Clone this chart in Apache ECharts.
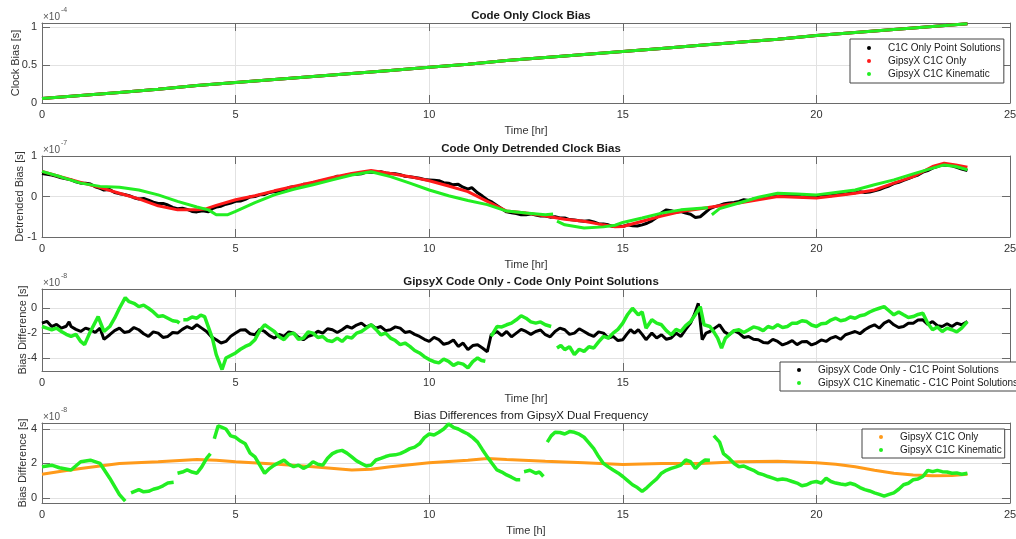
<!DOCTYPE html>
<html><head><meta charset="utf-8">
<script src="https://cdn.jsdelivr.net/npm/echarts@6/dist/echarts.min.js"></script>
<style>html,body{margin:0;padding:0;background:#fff}#c{width:1016px;height:539px}</style>
</head><body><div id="c"></div><script>
// ---------- data (time in hours) ----------
const p1Time = [0,1,2,3,4,5,6,7,8,9,10,11,12,13,14,15,16,17,18,19,20,21,22,23,23.9];
// clock bias, x1e-4 s (all three solutions overlap at this scale)
const p1ClockBias = [0.06,0.10,0.14,0.18,0.23,0.27,0.31,0.35,0.39,0.43,0.47,0.51,0.56,0.60,0.64,0.68,0.72,0.76,0.80,0.84,0.89,0.93,0.97,1.01,1.045];

// detrended bias, x1e-7 s
const p2PointSol = [[0,0.57],[0.125,0.55],[0.25,0.53],[0.375,0.5],[0.5,0.46],[0.75,0.41],[0.875,0.36],[1,0.33],[1.125,0.33],[1.25,0.31],[1.375,0.24],[1.5,0.2],[1.6,0.16],[1.75,0.17],[1.875,0.1],[2,0.07],[2.125,0.05],[2.25,0.02],[2.375,-0.03],[2.5,-0.06],[2.625,-0.05],[2.75,-0.09],[2.875,-0.14],[3,-0.17],[3.125,-0.17],[3.25,-0.21],[3.375,-0.27],[3.5,-0.3],[3.625,-0.29],[3.75,-0.32],[3.875,-0.37],[4,-0.38],[4.15,-0.35],[4.3,-0.38],[4.4,-0.3],[4.5,-0.26],[4.625,-0.24],[4.75,-0.19],[4.875,-0.16],[5,-0.12],[5.125,-0.11],[5.25,-0.07],[5.375,-0.01],[5.5,0.0],[5.625,0.04],[5.75,0.05],[5.875,0.1],[6,0.12],[6.125,0.13],[6.25,0.17],[6.375,0.22],[6.5,0.24],[6.625,0.23],[6.75,0.3],[6.875,0.3],[7,0.33],[7.125,0.37],[7.25,0.39],[7.375,0.42],[7.5,0.45],[7.625,0.5],[7.75,0.49],[7.875,0.53],[8,0.55],[8.125,0.55],[8.25,0.56],[8.375,0.6],[8.5,0.6],[8.625,0.59],[8.75,0.61],[8.875,0.58],[9,0.57],[9.125,0.56],[9.25,0.54],[9.375,0.5],[9.5,0.49],[9.625,0.47],[9.75,0.45],[9.875,0.42],[10,0.41],[10.125,0.4],[10.25,0.39],[10.375,0.34],[10.5,0.33],[10.6,0.29],[10.75,0.3],[10.875,0.23],[11,0.18],[11.1,0.22],[11.25,0.09],[11.375,0.01],[11.5,-0.08],[11.625,-0.14],[11.75,-0.22],[11.875,-0.3],[12,-0.38],[12.125,-0.4],[12.25,-0.42],[12.375,-0.45],[12.5,-0.45],[12.625,-0.43],[12.75,-0.46],[12.875,-0.48],[13,-0.48],[13.125,-0.51],[13.25,-0.5],[13.375,-0.53],[13.5,-0.53],[13.625,-0.57],[13.75,-0.58],[13.875,-0.6],[14,-0.61],[14.125,-0.6],[14.25,-0.63],[14.375,-0.67],[14.5,-0.68],[14.625,-0.7],[14.75,-0.74],[14.875,-0.72],[15,-0.74],[15.125,-0.7],[15.25,-0.72],[15.375,-0.73],[15.5,-0.7],[15.625,-0.66],[15.75,-0.6],[15.875,-0.52],[16,-0.4],[16.125,-0.33],[16.25,-0.35],[16.375,-0.39],[16.5,-0.37],[16.625,-0.41],[16.75,-0.44],[16.875,-0.52],[17,-0.5],[17.1,-0.42],[17.25,-0.3],[17.375,-0.25],[17.5,-0.22],[17.625,-0.18],[17.75,-0.16],[17.875,-0.15],[18,-0.12],[18.125,-0.08],[18.25,-0.1],[18.375,-0.06],[18.5,-0.04],[18.625,-0.02],[18.75,0.0],[18.875,0.02],[19,0.03],[19.125,0.01],[19.25,0.04],[19.375,0.03],[19.5,0.02],[19.625,-0.01],[19.75,0.01],[19.875,0.0],[20,0.0],[20.125,0.04],[20.25,0.02],[20.375,0.02],[20.5,0.04],[20.625,0.07],[20.75,0.06],[20.875,0.08],[21,0.09],[21.125,0.12],[21.25,0.1],[21.375,0.11],[21.5,0.14],[21.625,0.17],[21.75,0.22],[21.875,0.26],[22,0.32],[22.125,0.35],[22.25,0.4],[22.375,0.44],[22.5,0.49],[22.625,0.53],[22.75,0.6],[22.875,0.64],[23,0.7],[23.125,0.74],[23.25,0.78],[23.375,0.77],[23.5,0.76],[23.625,0.72],[23.75,0.68],[23.9,0.64]];
const p2GipsyOnly = [[0,0.62],[0.5,0.48],[1,0.35],[1.5,0.22],[2,0.08],[2.5,-0.06],[3,-0.23],[3.5,-0.33],[4,-0.33],[4.25,-0.3],[4.5,-0.22],[5,-0.08],[5.5,0.02],[6,0.14],[6.5,0.25],[7,0.35],[7.5,0.47],[8,0.57],[8.5,0.64],[9,0.57],[9.5,0.49],[10,0.39],[10.5,0.26],[11,0.12],[11.5,-0.12],[12,-0.36],[12.5,-0.41],[13,-0.48],[13.5,-0.56],[14,-0.61],[14.5,-0.7],[14.8,-0.75],[15,-0.74],[15.5,-0.61],[16,-0.48],[16.5,-0.37],[17,-0.3],[17.5,-0.23],[18,-0.16],[18.5,-0.08],[19,0],[19.5,-0.02],[20,-0.04],[20.5,0.02],[21,0.08],[21.5,0.16],[22,0.33],[22.5,0.49],[23,0.74],[23.3,0.82],[23.6,0.78],[23.9,0.72]];
const p2GipsyKin = [[0,0.62],[0.5,0.48],[1,0.33],[1.5,0.25],[2,0.23],[2.5,0.16],[3,0.04],[3.5,-0.12],[4,-0.26],[4.3,-0.33],[4.5,-0.45],[4.8,-0.45],[5,-0.37],[5.5,-0.15],[6,0.04],[6.5,0.18],[7,0.29],[7.5,0.41],[8,0.53],[8.5,0.61],[9,0.49],[9.5,0.33],[10,0.16],[10.5,0.02],[11,-0.1],[11.5,-0.2],[12,-0.36],[12.5,-0.41],[13,-0.45],[13.2,-0.43],[13.25,'-'],[13.3,-0.61],[13.5,-0.7],[14,-0.78],[14.5,-0.75],[14.8,-0.71],[15,-0.64],[15.5,-0.53],[16,-0.41],[16.5,-0.33],[17,-0.29],[17.2,-0.28],[17.25,'-'],[17.3,-0.45],[17.5,-0.3],[18,-0.16],[18.5,-0.02],[19,0.08],[19.5,0.06],[20,0.04],[20.5,0.1],[21,0.16],[21.5,0.29],[22,0.41],[22.5,0.56],[23,0.7],[23.3,0.78],[23.6,0.74],[23.9,0.66]];

// bias difference, x1e-8 s
const p3CodeOnly = [[0,-1.2],[0.125,-1.05],[0.25,-1.47],[0.375,-1.3],[0.5,-1.6],[0.625,-1.45],[0.7,-1.1],[0.75,-1.47],[0.875,-1.7],[1,-1.87],[1.125,-1.6],[1.25,-1.73],[1.375,-1.95],[1.5,-1.6],[1.6,-2.5],[1.75,-2.13],[1.875,-1.8],[2,-1.6],[2.125,-1.95],[2.25,-1.87],[2.375,-1.55],[2.5,-1.73],[2.625,-2.05],[2.75,-2.27],[2.875,-1.9],[3,-2.0],[3.125,-2.35],[3.25,-2.27],[3.375,-1.95],[3.5,-2.0],[3.625,-1.7],[3.75,-1.47],[3.875,-1.65],[4,-1.33],[4.125,-1.6],[4.25,-1.87],[4.375,-2.3],[4.5,-2.53],[4.625,-2.8],[4.75,-2.67],[4.875,-2.25],[5,-2.0],[5.125,-1.75],[5.25,-1.73],[5.375,-2.05],[5.5,-2.13],[5.625,-1.7],[5.75,-1.87],[5.875,-2.2],[6,-2.4],[6.125,-2.1],[6.25,-2.27],[6.375,-1.9],[6.5,-2.0],[6.625,-2.35],[6.75,-2.53],[6.875,-2.25],[7,-2.13],[7.125,-1.85],[7.25,-2.0],[7.375,-1.65],[7.5,-1.73],[7.625,-1.95],[7.75,-1.73],[7.875,-1.45],[8,-1.6],[8.125,-1.35],[8.25,-1.2],[8.375,-1.5],[8.5,-1.33],[8.625,-1.6],[8.75,-1.47],[8.875,-1.8],[9,-1.73],[9.125,-1.5],[9.25,-1.6],[9.375,-1.95],[9.5,-1.87],[9.625,-2.1],[9.75,-2.27],[9.875,-2.5],[10,-2.67],[10.125,-2.35],[10.25,-2.53],[10.375,-2.9],[10.5,-2.8],[10.625,-2.55],[10.75,-3.07],[10.875,-2.8],[11,-3.33],[11.125,-3.0],[11.25,-2.93],[11.375,-3.2],[11.5,-3.5],[11.6,-2.13],[11.75,-1.87],[11.875,-2.2],[12,-1.87],[12.125,-2.3],[12.25,-2.0],[12.375,-1.7],[12.5,-1.87],[12.625,-2.1],[12.75,-1.87],[12.875,-1.75],[13,-2.13],[13.125,-2.3],[13.25,-1.87],[13.375,-1.6],[13.5,-1.73],[13.625,-2.1],[13.75,-2.0],[13.875,-1.65],[14,-1.87],[14.125,-2.1],[14.25,-2.27],[14.375,-1.9],[14.5,-2.0],[14.625,-2.4],[14.75,-2.27],[14.875,-2.6],[15,-2.53],[15.1,-2.1],[15.2,-1.73],[15.3,-2.0],[15.4,-1.73],[15.5,-2.1],[15.6,-2.53],[15.75,-2.0],[15.875,-2.4],[16,-2.13],[16.125,-2.5],[16.25,-2.4],[16.375,-2.0],[16.5,-2.27],[16.625,-1.7],[16.75,-1.2],[16.85,-0.5],[16.95,0.4],[17.05,-2.53],[17.15,-2.0],[17.25,-1.87],[17.375,-1.6],[17.5,-1.33],[17.625,-1.9],[17.75,-2.13],[17.875,-1.8],[18,-2.0],[18.125,-2.35],[18.25,-2.27],[18.375,-2.5],[18.5,-2.53],[18.625,-2.75],[18.75,-2.8],[18.875,-2.5],[19,-2.67],[19.125,-2.95],[19.25,-2.8],[19.375,-2.6],[19.5,-2.93],[19.625,-2.7],[19.75,-2.67],[19.875,-2.95],[20,-2.8],[20.125,-2.55],[20.25,-2.67],[20.375,-2.4],[20.5,-2.27],[20.625,-2.5],[20.75,-2.13],[20.875,-2.0],[21,-1.87],[21.125,-2.05],[21.25,-1.73],[21.375,-1.5],[21.5,-1.33],[21.625,-1.6],[21.75,-1.2],[21.875,-1.0],[22,-1.33],[22.125,-1.55],[22.25,-1.47],[22.375,-1.2],[22.5,-1.2],[22.625,-0.95],[22.75,-0.93],[22.875,-1.3],[23,-1.07],[23.125,-1.4],[23.25,-1.47],[23.375,-1.25],[23.5,-1.47],[23.625,-1.2],[23.75,-1.33],[23.9,-1.07]];
const p3Kinematic = [[0,-1.47],[0.125,-1.6],[0.25,-1.73],[0.375,-1.6],[0.5,-1.87],[0.625,-2.1],[0.75,-2.27],[0.875,-2.1],[1,-2.67],[1.1,-2.93],[1.25,-1.87],[1.45,-0.67],[1.6,-1.87],[1.75,-1.47],[1.875,-0.8],[2,0],[2.15,0.85],[2.25,0.53],[2.375,0.4],[2.5,0.13],[2.625,0.25],[2.75,0],[2.875,-0.3],[3,-0.67],[3.125,-0.6],[3.25,-0.8],[3.375,-1.0],[3.5,-1.07],[3.55,-1.2],[3.6,'-'],[3.65,-0.93],[3.75,-0.93],[3.875,-0.7],[4,-0.8],[4.1,-0.55],[4.2,-0.67],[4.4,-2.4],[4.5,-3.73],[4.6,-4.53],[4.65,-4.93],[4.75,-4.0],[4.875,-3.8],[5,-3.6],[5.125,-3.3],[5.25,-3.07],[5.375,-2.9],[5.5,-2.53],[5.625,-1.8],[5.75,-1.33],[5.875,-1.6],[6,-1.87],[6.125,-2.3],[6.25,-2.53],[6.375,-2.1],[6.5,-2.0],[6.625,-2.5],[6.75,-2.4],[6.875,-1.9],[7,-2.0],[7.125,-2.35],[7.25,-2.27],[7.375,-2.6],[7.5,-2.67],[7.625,-2.4],[7.75,-2.67],[7.875,-2.3],[8,-2.4],[8.125,-2.0],[8.25,-1.87],[8.375,-1.6],[8.5,-1.33],[8.625,-1.7],[8.75,-2.13],[8.875,-2.0],[9,-2.4],[9.125,-2.6],[9.25,-2.93],[9.375,-2.8],[9.5,-3.07],[9.625,-3.4],[9.75,-3.6],[9.875,-3.9],[10,-4.13],[10.125,-4.3],[10.25,-4.4],[10.375,-4.1],[10.5,-4.27],[10.625,-4.6],[10.75,-4.4],[10.875,-4.5],[11,-4.8],[11.125,-4.3],[11.25,-4.0],[11.35,-4.2],[11.45,-4.27],[11.5,'-'],[11.6,-2.27],[11.75,-1.47],[11.875,-1.5],[12,-1.33],[12.125,-1.2],[12.25,-0.93],[12.375,-0.6],[12.5,-0.8],[12.625,-1.1],[12.75,-1.2],[12.875,-1.1],[13,-1.33],[13.15,-1.47],[13.2,'-'],[13.3,-3.2],[13.4,-3.0],[13.5,-3.33],[13.625,-3.1],[13.75,-3.73],[13.875,-3.3],[14,-3.47],[14.125,-3.1],[14.25,-3.2],[14.375,-2.7],[14.5,-2.27],[14.625,-2.4],[14.75,-2.0],[14.875,-1.7],[15,-1.2],[15.125,-0.5],[15.25,0.0],[15.4,-0.53],[15.5,-0.3],[15.6,-1.6],[15.75,-0.93],[15.875,-1.2],[16,-1.33],[16.125,-1.8],[16.25,-2.13],[16.375,-1.7],[16.5,-1.87],[16.625,-1.4],[16.75,-1.07],[16.875,-0.5],[17,0.13],[17.1,-1.33],[17.25,-1.47],[17.35,-1.9],[17.45,-2.4],[17.55,-3.2],[17.65,-2.4],[17.75,-2.13],[17.875,-1.8],[18,-1.73],[18.125,-1.95],[18.25,-1.73],[18.375,-1.5],[18.5,-1.6],[18.625,-1.8],[18.75,-1.47],[18.875,-1.6],[19,-1.33],[19.125,-1.55],[19.25,-1.47],[19.375,-1.2],[19.5,-1.2],[19.625,-1.0],[19.75,-1.07],[19.875,-1.35],[20,-1.47],[20.125,-1.25],[20.25,-1.2],[20.375,-0.95],[20.5,-0.8],[20.625,-1.0],[20.75,-0.93],[20.875,-0.7],[21,-0.8],[21.125,-0.6],[21.25,-0.53],[21.375,-0.3],[21.5,-0.13],[21.625,0.0],[21.75,0.13],[21.875,-0.2],[22,-0.53],[22.125,-0.3],[22.25,-0.53],[22.375,-0.75],[22.5,-0.67],[22.625,-0.5],[22.75,-0.4],[22.875,-1.2],[23,-1.73],[23.125,-1.5],[23.25,-1.87],[23.375,-1.6],[23.5,-1.73],[23.625,-1.9],[23.75,-1.6],[23.9,-1.07]];

// bias differences from dual frequency, x1e-8 s
const p4C1COnly = [[0,1.37],[0.5,1.55],[1,1.71],[1.5,1.85],[2,2.0],[3,2.1],[4,2.23],[4.5,2.18],[5,2.1],[6,1.96],[7,1.81],[8,1.62],[8.5,1.66],[9,1.81],[10,2.04],[11,2.19],[11.5,2.29],[12,2.23],[13,2.13],[14,2.04],[15,1.94],[16,2.0],[17,2.0],[18,2.1],[19,2.13],[20,2.04],[20.5,1.95],[21,1.81],[21.5,1.6],[22,1.43],[22.5,1.33],[23,1.28],[23.5,1.3],[23.9,1.37]];
const p4C1CKinematic = [[0,1.81],[0.25,1.9],[0.45,1.75],[0.5,1.81],[0.75,1.62],[1,2.1],[1.25,2.19],[1.5,2.0],[1.75,1.14],[2,0.19],[2.15,-0.19],[2.2,'-'],[2.3,0.29],[2.5,0.48],[2.625,0.35],[2.75,0.38],[2.875,0.5],[3,0.57],[3.125,0.7],[3.25,0.86],[3.4,0.9],[3.45,'-'],[3.5,1.43],[3.625,1.5],[3.75,1.62],[3.875,1.5],[4,1.43],[4.125,1.8],[4.25,2.29],[4.35,2.57],[4.4,'-'],[4.45,3.43],[4.55,4.19],[4.65,4.1],[4.75,4.0],[4.875,3.6],[5,3.52],[5.125,3.3],[5.25,3.14],[5.375,2.6],[5.5,2.38],[5.625,1.9],[5.75,1.43],[5.875,1.7],[6,1.9],[6.125,2.05],[6.25,2.19],[6.375,1.95],[6.5,1.81],[6.625,1.9],[6.75,1.71],[6.875,1.85],[7,2.1],[7.125,1.95],[7.25,1.9],[7.375,2.3],[7.5,2.57],[7.625,2.7],[7.75,2.76],[7.875,2.6],[8,2.38],[8.125,2.15],[8.25,2.0],[8.375,1.85],[8.5,1.9],[8.625,2.2],[8.75,2.29],[8.875,2.4],[9,2.48],[9.125,2.5],[9.25,2.57],[9.375,2.7],[9.5,2.86],[9.625,2.95],[9.75,3.14],[9.875,3.5],[10,3.71],[10.125,3.65],[10.25,3.81],[10.375,4.0],[10.5,4.29],[10.625,4.1],[10.75,4.0],[10.875,3.85],[11,3.71],[11.125,3.5],[11.25,3.24],[11.375,2.8],[11.5,2.38],[11.625,2.0],[11.75,1.62],[11.875,1.5],[12,1.33],[12.125,1.2],[12.25,1.05],[12.35,1.05],[12.4,'-'],[12.45,1.52],[12.6,1.6],[12.75,1.43],[12.85,1.5],[12.95,1.24],[13,'-'],[13.05,3.24],[13.15,3.6],[13.25,3.81],[13.375,3.8],[13.5,3.71],[13.625,3.85],[13.75,3.81],[13.875,3.7],[14,3.52],[14.125,3.2],[14.25,2.86],[14.375,2.4],[14.5,2.0],[14.625,1.8],[14.75,1.62],[14.875,1.45],[15,1.24],[15.125,1.0],[15.25,0.76],[15.375,0.6],[15.5,0.38],[15.625,0.6],[15.75,0.86],[15.875,1.1],[16,1.43],[16.125,1.6],[16.25,1.71],[16.375,1.8],[16.5,1.9],[16.625,2.2],[16.75,2.1],[16.875,1.7],[17,2.0],[17.125,2.2],[17.25,2.19],[17.3,'-'],[17.35,3.62],[17.5,3.24],[17.6,2.57],[17.75,2.29],[17.875,2.0],[18,1.81],[18.125,1.85],[18.25,1.71],[18.375,1.6],[18.5,1.43],[18.625,1.35],[18.75,1.24],[18.875,1.15],[19,1.05],[19.125,1.1],[19.25,1.05],[19.375,0.95],[19.5,0.86],[19.625,0.7],[19.75,0.76],[19.875,0.9],[20,0.95],[20.125,0.85],[20.25,1.14],[20.375,0.95],[20.5,0.86],[20.625,0.8],[20.75,0.76],[20.875,0.85],[21,0.76],[21.125,0.6],[21.25,0.48],[21.375,0.4],[21.5,0.29],[21.625,0.2],[21.75,0.1],[21.875,0.2],[22,0.29],[22.125,0.5],[22.25,0.76],[22.375,0.85],[22.5,1.05],[22.625,1.1],[22.75,1.24],[22.875,1.6],[23,1.52],[23.125,1.6],[23.25,1.52],[23.375,1.5],[23.5,1.43],[23.625,1.45],[23.75,1.37],[23.9,1.43]];

// axis texts / ticks
const titles = ['Code Only Clock Bias','Code Only Detrended Clock Bias','GipsyX Code Only - Code Only Point Solutions','Bias Differences from GipsyX Dual Frequency'];
const titleBold = [true,true,true,false];
const yNames = ['Clock Bias [s]','Detrended Bias [s]','Bias Difference [s]','Bias Difference [s]'];
const xNames = ['Time [hr]','Time [hr]','Time [hr]','Time [h]'];
const yExponents = ['-4','-7','-8','-8'];
const yTicks = [[0,0.5,1],[-1,0,1],[-4,-2,0],[0,2,4]];
const yMin = [0,-1,-5.05,-0.3];
const yMax = [1.055,1,1.55,4.35];
const legendLabels = {
  p1k:'C1C Only Point Solutions', p1r:'GipsyX C1C Only', p1g:'GipsyX C1C Kinematic',
  p3k:'GipsyX Code Only - C1C Point Solutions', p3g:'GipsyX C1C Kinematic - C1C Point Solutions',
  p4o:'GipsyX C1C Only', p4g:'GipsyX C1C Kinematic'
};

// ---------- layout ----------
const FONT = 'Liberation Sans, Arial, sans-serif';
const GREEN = '#22ee22', RED = '#ff1a1a', BLACK = '#000000', ORANGE = '#ff9a1a';
const AXC = '#6a6a6a', TXT = '#333333', GRIDC = '#e2e2e2';
const grids = [
  {left:42, top:23, width:968, height:80},
  {left:42, top:156, width:968, height:81},
  {left:42, top:289, width:968, height:82},
  {left:42, top:423, width:968, height:80}
].map(g => Object.assign(g, {containLabel:false, outerBoundsMode:'none'}));
const yNameGap = [21,17,14,14];

const xAxes = [], yAxes = [], titleOpts = [], graphics = [];
grids.forEach((g,i) => {
  xAxes.push({
    type:'value', gridIndex:i, min:0, max:25, interval:5, position:'bottom',
    axisLine:{show:true, onZero:false, lineStyle:{color:AXC}},
    axisTick:{show:true, inside:true, length:8, lineStyle:{color:AXC}},
    axisLabel:{color:TXT, fontSize:11, fontFamily:FONT, margin:6},
    splitLine:{show:true, lineStyle:{color:GRIDC}},
    name:xNames[i], nameLocation:'middle', nameGap:22, nameMoveOverlap:false,
    nameTextStyle:{color:TXT, fontSize:11, fontFamily:FONT}
  });
  xAxes.push({
    type:'value', gridIndex:i, min:0, max:25, interval:5, position:'top',
    axisLine:{show:true, onZero:false, lineStyle:{color:AXC}},
    axisTick:{show:true, inside:true, length:8, lineStyle:{color:AXC}},
    axisLabel:{show:false}, splitLine:{show:false}
  });
  yAxes.push({
    type:'value', gridIndex:i, min:yMin[i], max:yMax[i], position:'left',
    axisLine:{show:true, onZero:false, lineStyle:{color:AXC}},
    axisTick:{show:true, inside:true, length:8, customValues:yTicks[i], lineStyle:{color:AXC}},
    axisLabel:{color:TXT, fontSize:11, fontFamily:FONT, margin:5, customValues:yTicks[i], showMinLabel:true, showMaxLabel:true},
    splitLine:{show:true, lineStyle:{color:GRIDC}},
    name:yNames[i], nameLocation:'middle', nameGap:yNameGap[i], nameMoveOverlap:false,
    nameTextStyle:{color:TXT, fontSize:11, fontFamily:FONT}
  });
  yAxes.push({
    type:'value', gridIndex:i, min:yMin[i], max:yMax[i], position:'right',
    axisLine:{show:true, onZero:false, lineStyle:{color:AXC}},
    axisTick:{show:true, inside:true, length:8, customValues:yTicks[i], lineStyle:{color:AXC}},
    axisLabel:{show:false}, splitLine:{show:false}
  });
  titleOpts.push({
    text:titles[i], left:g.left + g.width/2, textAlign:'center', top:g.top - 18,
    textStyle:{fontSize:11.5, fontWeight:titleBold[i] ? 'bold' : 'normal', color:'#1a1a1a', fontFamily:FONT}
  });
  graphics.push({type:'text', left:g.left + 1, top:g.top - 11,
    style:{text:'\u00d710', fontSize:10, fill:'#555', font:'10px ' + FONT}});
  graphics.push({type:'text', left:g.left + 19, top:g.top - 16,
    style:{text:yExponents[i], fontSize:7, fill:'#555', font:'7px ' + FONT}});
});

function ln(name, data, color, gi, w) {
  return {name, type:'line', data, xAxisIndex:2*gi, yAxisIndex:2*gi, showSymbol:false,
    connectNulls:false, animation:false, silent:true,
    lineStyle:{color, width:w || 3}, itemStyle:{color}};
}
const zip = (t, v) => t.map((x, k) => [x, v[k]]);

const series = [
  ln('p1k', zip(p1Time, p1ClockBias), BLACK, 0),
  ln('p1r', zip(p1Time, p1ClockBias), RED, 0),
  ln('p1g', zip(p1Time, p1ClockBias), GREEN, 0),
  ln('p2k', p2PointSol, BLACK, 1),
  ln('p2r', p2GipsyOnly, RED, 1),
  ln('p2g', p2GipsyKin, GREEN, 1),
  ln('p3k', p3CodeOnly, BLACK, 2, 3),
  ln('p3g', p3Kinematic, GREEN, 2, 3.5),
  ln('p4o', p4C1COnly, ORANGE, 3, 3),
  ln('p4g', p4C1CKinematic, GREEN, 3, 3.5)
];

const legendBase = {
  orient:'vertical', icon:'circle', itemWidth:28, itemHeight:4, itemGap:3,
  padding:[3,3,3,17], borderColor:'#444', borderWidth:1, backgroundColor:'#fff',
  textStyle:{fontSize:10, color:'#1a1a1a', fontFamily:FONT},
  formatter:n => legendLabels[n], selectedMode:false, z:10
};
const legends = [
  Object.assign({}, legendBase, {left:850, top:39, padding:[4,3,4,17], data:['p1k','p1r','p1g']}),
  Object.assign({}, legendBase, {left:780, top:362, data:['p3k','p3g']}),
  Object.assign({}, legendBase, {left:862, top:429, data:['p4o','p4g']})
];

const chart = echarts.init(document.getElementById('c'), null, {renderer:'canvas'});
chart.setOption({
  backgroundColor:'#fff', animation:false,
  title:titleOpts, grid:grids, xAxis:xAxes, yAxis:yAxes,
  legend:legends, graphic:graphics, series
});
</script></body></html>
